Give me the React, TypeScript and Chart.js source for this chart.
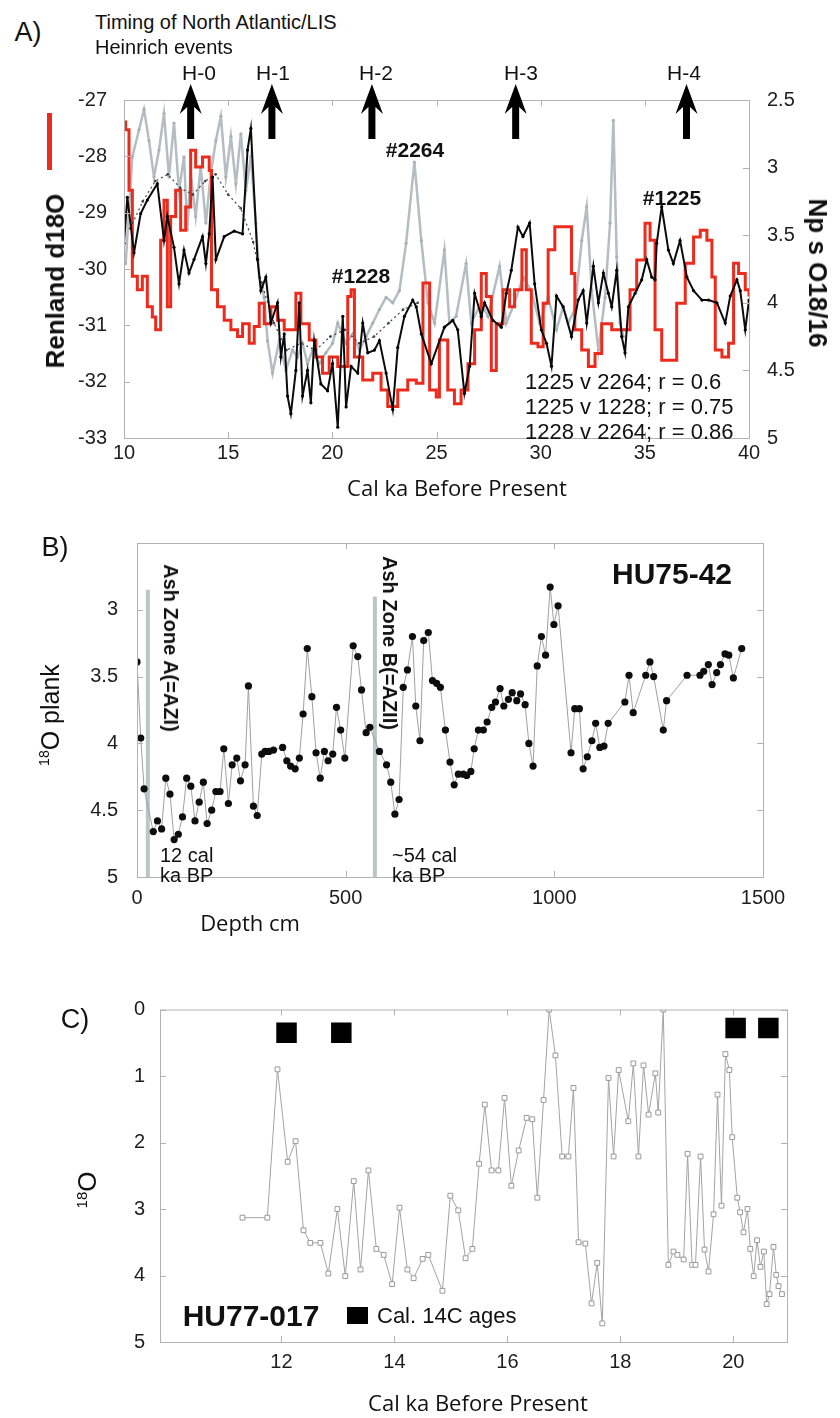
import React, { useEffect, useRef } from "react";
import { Chart, registerables } from "chart.js";

Chart.register(...registerables);

const FONT = "'Liberation Sans', Arial, Helvetica, sans-serif";
const TITLE_FONT = "'Open Sans', 'Liberation Sans', sans-serif";

// ---------------- Panel A data ----------------
const renlandAge = [10.0, 10.08, 10.24, 10.4, 10.64, 10.88, 11.12, 11.36, 11.52, 11.76, 11.92, 12.08, 12.24, 12.48, 12.72, 12.96, 13.2, 13.44, 13.77, 14.09, 14.2, 14.49, 14.81, 15.13, 15.45, 15.69, 16.01, 16.25, 16.49, 16.73, 17.05, 17.37, 17.69, 18.25, 18.49, 18.89, 19.21, 19.53, 19.85, 20.26, 20.74, 20.9, 21.06, 21.46, 21.94, 22.34, 22.66, 23.14, 23.62, 24.03, 24.35, 24.67, 24.99, 25.14, 25.54, 25.86, 26.18, 26.51, 26.83, 27.15, 27.39, 27.63, 27.87, 28.19, 28.51, 28.75, 29.1, 29.31, 29.55, 29.87, 30.12, 30.36, 30.68, 31.08, 31.32, 31.48, 31.64, 31.97, 32.29, 32.61, 32.93, 33.41, 33.89, 34.29, 34.61, 35.01, 35.25, 35.49, 35.81, 36.21, 36.53, 36.94, 37.34, 37.66, 37.98, 38.22, 38.38, 38.7, 39.02, 39.26, 39.5, 39.82, 40.0];
const renlandD18O = [-27.39, -27.53, -28.6, -30.13, -30.37, -30.13, -30.67, -30.85, -31.08, -29.49, -28.78, -30.67, -29.07, -28.6, -29.31, -28.9, -27.89, -28.19, -28.01, -28.25, -30.37, -30.67, -30.91, -31.08, -31.2, -30.97, -31.32, -31.02, -30.61, -30.97, -30.67, -30.91, -31.08, -30.43, -30.97, -31.26, -31.56, -31.85, -31.56, -31.73, -30.49, -30.37, -31.56, -31.97, -31.85, -32.15, -32.44, -32.15, -31.97, -32.03, -30.25, -32.15, -32.27, -31.26, -32.15, -32.39, -32.15, -31.68, -31.08, -30.08, -30.49, -31.8, -30.97, -30.37, -30.67, -30.37, -29.66, -30.37, -31.32, -31.38, -30.61, -29.66, -29.25, -29.25, -29.25, -30.08, -31.08, -31.44, -31.73, -31.5, -30.97, -31.08, -31.08, -30.37, -29.84, -29.19, -29.49, -31.08, -31.62, -31.62, -30.61, -29.9, -29.43, -29.31, -29.49, -30.14, -31.44, -31.56, -31.32, -29.9, -30.08, -30.37, -30.49];

const core1225Age = [10.0, 10.16, 10.48, 10.8, 11.12, 11.6, 11.92, 12.08, 12.4, 12.64, 12.88, 13.12, 13.36, 13.77, 13.93, 14.09, 14.25, 14.41, 14.81, 15.29, 15.69, 15.93, 16.09, 16.41, 16.57, 16.81, 17.05, 17.37, 17.53, 17.69, 17.85, 18.01, 18.25, 18.41, 18.57, 18.81, 18.97, 19.13, 19.45, 19.77, 20.01, 20.26, 20.5, 20.66, 20.9, 21.22, 21.46, 21.7, 22.02, 22.26, 22.58, 22.9, 23.14, 23.46, 23.86, 24.03, 24.27, 24.75, 25.38, 25.78, 26.02, 26.34, 26.59, 26.83, 27.15, 27.31, 27.71, 28.11, 28.35, 28.59, 28.91, 29.15, 29.47, 29.71, 30.03, 30.28, 30.52, 30.76, 31.08, 31.48, 31.8, 32.04, 32.21, 32.53, 32.77, 33.01, 33.25, 33.41, 33.65, 33.89, 34.05, 34.21, 34.53, 34.85, 35.09, 35.33, 35.49, 35.57, 35.81, 36.13, 36.37, 36.69, 37.02, 37.34, 37.74, 38.06, 38.46, 38.86, 39.1, 39.42, 39.58, 39.82, 40.0];
const core1225O18 = [3.56, 3.22, 3.63, 3.34, 3.24, 3.12, 3.54, 3.36, 3.59, 3.86, 3.61, 3.78, 3.68, 3.51, 3.71, 3.49, 3.07, 3.68, 3.51, 3.47, 3.49, 2.87, 2.71, 3.68, 3.91, 3.81, 4.15, 4.0, 4.4, 4.23, 4.69, 4.82, 4.5, 4.0, 4.69, 4.5, 4.74, 4.28, 4.6, 4.65, 4.45, 4.92, 4.1, 4.77, 4.47, 4.52, 4.15, 4.37, 4.35, 4.28, 4.52, 4.79, 4.33, 4.1, 3.98, 4.03, 4.23, 4.45, 4.18, 4.13, 4.2, 4.67, 4.47, 3.93, 4.1, 4.0, 4.13, 4.18, 3.93, 3.76, 3.44, 3.51, 3.41, 3.86, 4.2, 4.3, 4.47, 3.95, 4.03, 4.25, 3.98, 3.91, 4.15, 3.73, 4.0, 3.78, 3.93, 4.03, 3.76, 4.25, 4.37, 4.03, 3.93, 3.83, 3.68, 3.81, 3.83, 3.56, 3.29, 3.61, 3.71, 3.54, 3.81, 3.91, 3.98, 3.98, 4.0, 4.15, 3.95, 3.83, 3.91, 4.2, 3.98];

const core2264Age = [10.08, 10.4, 10.72, 10.96, 11.2, 11.44, 11.68, 11.92, 12.16, 12.4, 12.64, 12.88, 13.04, 13.2, 13.44, 13.68, 13.93, 14.17, 14.41, 14.65, 14.89, 15.13, 15.37, 15.61, 15.85, 16.09, 16.33, 16.49, 16.73, 16.89, 17.13, 17.45, 17.77, 18.09, 18.33, 18.57, 18.81, 19.05, 19.37, 19.69, 20.01, 20.26, 20.66, 20.98, 21.3, 21.62, 21.94, 22.26, 22.58, 22.9, 23.22, 23.54, 23.94, 24.27, 24.59, 24.91, 25.38, 25.62, 25.94, 26.42, 26.67, 27.15, 27.47, 28.03, 28.35, 28.75, 29.15, 29.55, 29.95, 30.36, 30.76, 31.08, 31.32, 31.64, 31.97, 32.21, 32.45, 32.77, 33.09, 33.33, 33.49, 33.65, 33.81, 33.97];
const core2264O18 = [3.71, 2.92, 2.72, 2.57, 2.8, 3.07, 2.87, 2.6, 3.07, 2.67, 3.17, 2.92, 3.46, 3.04, 3.36, 2.99, 3.41, 3.04, 2.8, 2.62, 3.07, 2.77, 3.12, 2.75, 3.17, 2.92, 3.41, 3.81, 3.96, 4.28, 4.52, 4.28, 4.5, 4.35, 4.4, 4.3, 4.45, 4.35, 4.45, 4.37, 4.3, 4.15, 4.3, 4.23, 4.35, 4.25, 4.15, 4.05, 3.96, 4.0, 3.91, 3.56, 2.96, 3.54, 4.0, 4.15, 3.61, 4.15, 4.1, 3.71, 4.15, 4.0, 4.1, 3.73, 4.15, 4.0, 3.81, 3.91, 4.15, 3.96, 4.2, 4.03, 4.15, 4.05, 3.54, 3.29, 3.91, 4.35, 3.96, 3.41, 2.65, 3.66, 4.15, 4.25];

const core1228Age = [10.3, 10.9, 11.5, 12.1, 12.7, 13.3, 13.9, 14.4, 15.0, 15.6, 16.2, 16.6, 17.2, 17.8, 18.5, 19.2, 19.9, 20.6, 21.3, 22.0, 22.7, 23.4, 24.1];
const core1228O18 = [3.45, 3.25, 3.1, 3.05, 3.15, 3.2, 3.1, 3.05, 3.2, 3.3, 3.55, 3.85, 4.15, 4.35, 4.3, 4.35, 4.25, 4.2, 4.3, 4.25, 4.15, 4.05, 4.0];

const heinrichAges = [13.2, 17.1, 21.9, 28.8, 37.0];
const heinrichLabels = ["H-0", "H-1", "H-2", "H-3", "H-4"];
const ageTicksA = [10, 15, 20, 25, 30, 35, 40];
const renlandTicks = [-33, -32, -31, -30, -29, -28, -27];
const npsTicks = [2.5, 3, 3.5, 4, 4.5, 5];
const correlationLines = ["1225 v 2264; r = 0.6", "1225 v 1228; r = 0.75", "1228 v 2264; r = 0.86"];

// ---------------- Panel B data ----------------
const depthCm = [0, 9, 17, 39, 49, 59, 69, 79, 89, 99, 109, 119, 129, 139, 149, 159, 168, 179, 189, 199, 208, 219, 228, 239, 248, 259, 267, 279, 288, 299, 307, 316, 327, 349, 359, 368, 379, 389, 398, 408, 419, 429, 439, 449, 458, 469, 478, 488, 498, 518, 529, 538, 549, 558, 581, 598, 608, 618, 628, 638, 648, 660, 668, 678, 687, 698, 708, 718, 727, 739, 750, 760, 770, 782, 790, 800, 808, 818, 830, 839, 850, 859, 870, 879, 890, 899, 910, 919, 930, 939, 949, 959, 969, 979, 990, 999, 1009, 1040, 1049, 1060, 1069, 1079, 1090, 1099, 1109, 1119, 1129, 1169, 1179, 1189, 1219, 1229, 1238, 1261, 1269, 1318, 1349, 1358, 1369, 1378, 1389, 1398, 1409, 1418, 1429, 1449];
const plankO18 = [3.39, 3.96, 4.34, 4.66, 4.58, 4.64, 4.26, 4.38, 4.72, 4.68, 4.55, 4.26, 4.32, 4.58, 4.44, 4.29, 4.6, 4.5, 4.36, 4.36, 4.04, 4.45, 4.16, 4.11, 4.28, 4.16, 3.57, 4.47, 4.54, 4.08, 4.06, 4.06, 4.05, 4.03, 4.13, 4.17, 4.19, 4.11, 3.78, 3.29, 3.65, 4.07, 4.26, 4.06, 4.13, 4.08, 3.73, 3.9, 4.11, 3.27, 3.35, 3.6, 3.92, 3.88, 4.06, 4.16, 4.29, 4.53, 4.42, 3.58, 3.45, 3.2, 3.72, 3.98, 3.23, 3.17, 3.53, 3.55, 3.58, 3.9, 4.14, 4.31, 4.23, 4.23, 4.24, 4.21, 4.04, 3.9, 3.9, 3.84, 3.73, 3.69, 3.59, 3.72, 3.67, 3.62, 3.68, 3.63, 3.71, 4.0, 4.17, 3.42, 3.2, 3.34, 2.83, 3.11, 2.97, 4.07, 3.74, 3.74, 4.19, 4.1, 3.98, 3.85, 4.03, 4.02, 3.85, 3.69, 3.49, 3.77, 3.49, 3.39, 3.5, 3.9, 3.68, 3.49, 3.49, 3.46, 3.41, 3.56, 3.47, 3.41, 3.33, 3.34, 3.51, 3.29];
const ashDepths = [26, 570];
const ashTops = [2.85, 2.9];
const depthTicks = [0, 500, 1000, 1500];
const plankTicks = [3, 3.5, 4, 4.5, 5];

// ---------------- Panel C data ----------------
const hu77Age = [11.31, 11.75, 11.93, 12.11, 12.25, 12.39, 12.51, 12.69, 12.83, 12.99, 13.13, 13.28, 13.4, 13.54, 13.68, 13.81, 13.96, 14.09, 14.23, 14.34, 14.5, 14.6, 14.85, 14.99, 15.13, 15.26, 15.38, 15.5, 15.6, 15.72, 15.84, 15.95, 16.07, 16.2, 16.34, 16.44, 16.53, 16.64, 16.74, 16.85, 16.97, 17.08, 17.17, 17.26, 17.38, 17.49, 17.59, 17.68, 17.79, 17.88, 17.97, 18.14, 18.23, 18.32, 18.41, 18.5, 18.62, 18.67, 18.76, 18.85, 18.94, 19.01, 19.12, 19.19, 19.27, 19.33, 19.42, 19.49, 19.56, 19.65, 19.72, 19.79, 19.86, 19.93, 19.98, 20.07, 20.12, 20.18, 20.25, 20.3, 20.36, 20.42, 20.48, 20.54, 20.59, 20.64, 20.71, 20.76, 20.8, 20.86];
const hu77O18 = [3.13, 3.13, 0.9, 2.29, 1.98, 3.32, 3.51, 3.51, 3.97, 3.0, 4.01, 2.58, 3.91, 2.42, 3.6, 3.69, 4.13, 2.98, 3.91, 4.04, 3.75, 3.69, 4.23, 2.8, 3.02, 3.74, 3.6, 2.32, 1.43, 2.42, 2.42, 1.33, 2.65, 2.12, 1.63, 1.65, 2.83, 1.36, 0.0, 0.69, 2.21, 2.21, 1.18, 3.5, 3.52, 4.42, 3.81, 4.72, 1.03, 2.21, 0.91, 1.68, 0.81, 2.21, 0.84, 1.58, 0.96, 1.55, 0.0, 3.84, 3.64, 3.69, 3.76, 2.17, 3.84, 3.84, 2.21, 3.61, 3.94, 3.08, 1.28, 2.95, 0.67, 0.91, 1.92, 2.83, 3.05, 3.35, 3.0, 3.6, 4.01, 3.47, 3.87, 3.64, 4.43, 4.28, 3.57, 3.99, 4.16, 4.28];
const c14Ages = [12.09, 13.06, 20.04, 20.62];
const c14Level = [0.35, 0.35, 0.28, 0.28];
const ageTicksC = [12, 14, 16, 18, 20];
const o18TicksC = [0, 1, 2, 3, 4, 5];

// ---------------- helpers ----------------
const zip = (xs: number[], ys: number[]) => xs.map((x, i) => ({ x, y: ys[i] }));

const fixTicks = (values: number[]) => (scale: any) => {
  scale.ticks = values.map((v) => ({ value: v }));
};

const fixSize = (dim: "width" | "height", size: number) => (s: any) => {
  s[dim] = size;
  s.paddingTop = 0;
  s.paddingBottom = 0;
  s.paddingLeft = 0;
  s.paddingRight = 0;
};

const tickFont = { family: FONT, size: 20 };

const axis = (extra: any) => ({
  type: "linear",
  grid: { display: false, drawTicks: false },
  border: { display: false },
  ...extra,
  ticks: {
    font: tickFont,
    color: "#1e1e1e",
    autoSkip: false,
    maxRotation: 0,
    callback: (v: any) => String(v),
    ...(extra.ticks || {}),
  },
});

const framePlugin = {
  id: "frame",
  afterDraw(chart: any) {
    const { ctx, chartArea: a, scales } = chart;
    ctx.save();
    ctx.strokeStyle = "#b2b2b2";
    ctx.lineWidth = 1;
    ctx.strokeRect(a.left + 0.5, a.top + 0.5, a.right - a.left, a.bottom - a.top);
    const L = 6;
    ctx.beginPath();
    scales.x.ticks.forEach((t: any) => {
      const px = Math.round(scales.x.getPixelForValue(t.value)) + 0.5;
      ctx.moveTo(px, a.bottom);
      ctx.lineTo(px, a.bottom - L);
      ctx.moveTo(px, a.top);
      ctx.lineTo(px, a.top + L);
    });
    scales.y.ticks.forEach((t: any) => {
      const py = Math.round(scales.y.getPixelForValue(t.value)) + 0.5;
      ctx.moveTo(a.left, py);
      ctx.lineTo(a.left + L, py);
      if (!scales.y1) {
        ctx.moveTo(a.right, py);
        ctx.lineTo(a.right - L, py);
      }
    });
    if (scales.y1) {
      scales.y1.ticks.forEach((t: any) => {
        const py = Math.round(scales.y1.getPixelForValue(t.value)) + 0.5;
        ctx.moveTo(a.right, py);
        ctx.lineTo(a.right - L, py);
      });
    }
    ctx.stroke();
    ctx.restore();
  },
};

const arrowsPlugin = {
  id: "heinrichArrows",
  afterDraw(chart: any) {
    const { ctx, chartArea: a, scales } = chart;
    ctx.save();
    ctx.fillStyle = "#000";
    heinrichAges.forEach((age) => {
      const x = scales.x.getPixelForValue(age);
      const tip = a.top - 16;
      const base = a.top + 39;
      ctx.beginPath();
      ctx.moveTo(x, tip);
      ctx.lineTo(x + 11, tip + 30);
      ctx.lineTo(x + 3.5, tip + 23);
      ctx.lineTo(x + 3.5, base);
      ctx.lineTo(x - 3.5, base);
      ctx.lineTo(x - 3.5, tip + 23);
      ctx.lineTo(x - 11, tip + 30);
      ctx.closePath();
      ctx.fill();
    });
    ctx.restore();
  },
};

const ashPlugin = {
  id: "ashZones",
  beforeDatasetsDraw(chart: any) {
    const { ctx, chartArea: a, scales } = chart;
    ctx.save();
    ctx.strokeStyle = "#b8c6c5";
    ctx.lineWidth = 4;
    ashDepths.forEach((d, i) => {
      const x = scales.x.getPixelForValue(d);
      ctx.beginPath();
      ctx.moveTo(x, scales.y.getPixelForValue(ashTops[i]));
      ctx.lineTo(x, a.bottom);
      ctx.stroke();
    });
    ctx.restore();
  },
};

const basePlugins = { legend: { display: false }, tooltip: { enabled: false } };

function configA(): any {
  return {
    type: "line",
    data: {
      datasets: [
        {
          data: zip(core1225Age, core1225O18),
          yAxisID: "y1",
          borderColor: "#0b0b0b",
          borderWidth: 2,
          pointRadius: 1.6,
          pointBackgroundColor: "#000",
          pointBorderWidth: 0,
          order: 0,
        },
        {
          data: zip(core1228Age, core1228O18),
          yAxisID: "y1",
          borderColor: "#3d434a",
          borderWidth: 1.2,
          borderDash: [2, 3],
          pointRadius: 1.3,
          pointBackgroundColor: "#3d434a",
          pointBorderWidth: 0,
          order: 1,
        },
        {
          data: zip(renlandAge, renlandD18O),
          yAxisID: "y",
          borderColor: "#ec2b1c",
          borderWidth: 3,
          stepped: true,
          pointRadius: 0,
          order: 2,
        },
        {
          data: zip(core2264Age, core2264O18),
          yAxisID: "y1",
          borderColor: "#b3bdc2",
          borderWidth: 2.5,
          pointRadius: 1.6,
          pointBackgroundColor: "#a7b1b6",
          pointBorderWidth: 0,
          order: 3,
        },
      ],
    },
    options: {
      animation: false,
      responsive: false,
      devicePixelRatio: 1,
      events: [],
      layout: { padding: { top: 45, left: 0, right: 0, bottom: 0 } },
      plugins: basePlugins,
      scales: {
        x: axis({
          position: "bottom",
          min: 10,
          max: 40,
          afterBuildTicks: fixTicks(ageTicksA),
          afterFit: fixSize("height", 37),
          ticks: { padding: 3 },
        }),
        y: axis({
          position: "left",
          min: -33,
          max: -27,
          afterBuildTicks: fixTicks(renlandTicks),
          afterFit: fixSize("width", 64),
          ticks: { padding: 17 },
        }),
        y1: axis({
          position: "right",
          min: 2.5,
          max: 5,
          reverse: true,
          afterBuildTicks: fixTicks(npsTicks),
          afterFit: fixSize("width", 71),
          ticks: { padding: 18 },
        }),
      },
    },
    plugins: [framePlugin, arrowsPlugin],
  };
}

function configB(): any {
  return {
    type: "line",
    data: {
      datasets: [
        {
          data: zip(depthCm, plankO18),
          borderColor: "#a0a0a0",
          borderWidth: 1,
          pointRadius: 3.6,
          pointBackgroundColor: "#0d0d0d",
          pointBorderColor: "#0d0d0d",
          pointBorderWidth: 0,
        },
      ],
    },
    options: {
      animation: false,
      responsive: false,
      devicePixelRatio: 1,
      events: [],
      layout: { padding: { top: 5, left: 0, right: 27, bottom: 0 } },
      plugins: basePlugins,
      scales: {
        x: axis({
          position: "bottom",
          min: 0,
          max: 1500,
          afterBuildTicks: fixTicks(depthTicks),
          afterFit: fixSize("height", 61),
          ticks: { padding: 9 },
        }),
        y: axis({
          position: "left",
          min: 2.5,
          max: 5,
          reverse: true,
          afterBuildTicks: fixTicks(plankTicks),
          afterFit: fixSize("width", 107),
          ticks: { padding: 19 },
        }),
      },
    },
    plugins: [framePlugin, ashPlugin],
  };
}

function configC(): any {
  return {
    type: "line",
    data: {
      datasets: [
        {
          data: zip(c14Ages, c14Level),
          showLine: false,
          pointStyle: "rect",
          pointRadius: 14.5,
          pointBackgroundColor: "#000",
          pointBorderWidth: 0,
          order: 0,
        },
        {
          data: zip(hu77Age, hu77O18),
          borderColor: "#a3a3a3",
          borderWidth: 1,
          pointStyle: "rect",
          pointRadius: 3.4,
          pointBackgroundColor: "#ffffff",
          pointBorderColor: "#9a9a9a",
          pointBorderWidth: 1,
          order: 1,
        },
      ],
    },
    options: {
      animation: false,
      responsive: false,
      devicePixelRatio: 1,
      events: [],
      layout: { padding: { top: 8, left: 0, right: 23, bottom: 0 } },
      plugins: basePlugins,
      scales: {
        x: axis({
          position: "bottom",
          min: 9.85,
          max: 20.95,
          afterBuildTicks: fixTicks(ageTicksC),
          afterFit: fixSize("height", 73),
          ticks: { padding: 8 },
        }),
        y: axis({
          position: "left",
          min: 0,
          max: 5,
          reverse: true,
          afterBuildTicks: fixTicks(o18TicksC),
          afterFit: fixSize("width", 130),
          ticks: { padding: 15 },
        }),
      },
    },
    plugins: [framePlugin],
  };
}

function ChartBox(props: { left: number; top: number; width: number; height: number; make: () => any }) {
  const { left, top, width, height, make } = props;
  const ref = useRef<HTMLCanvasElement>(null);
  useEffect(() => {
    const chart = new Chart(ref.current as HTMLCanvasElement, make());
    return () => chart.destroy();
  }, []);
  return (
    <div style={{ position: "absolute", left, top, width, height }}>
      <canvas ref={ref} width={width} height={height} style={{ width, height, display: "block" }} />
    </div>
  );
}

function T(props: {
  x: number;
  y: number;
  size?: number;
  bold?: boolean;
  family?: string;
  rotate?: number;
  anchor?: "center" | "left";
  children: any;
}) {
  const { x, y, size = 20, bold = false, family = FONT, rotate = 0, anchor = "center", children } = props;
  const tx = anchor === "center" ? "-50%" : "0";
  return (
    <div
      style={{
        position: "absolute",
        left: x,
        top: y,
        fontFamily: family,
        fontSize: size,
        fontWeight: bold ? 700 : 400,
        lineHeight: 1,
        whiteSpace: "nowrap",
        color: "#111",
        transform: `translate(${tx}, -50%) rotate(${rotate}deg)`,
      }}
    >
      {children}
    </div>
  );
}

const hPos = [199, 273, 376, 521, 684];

export default function App() {
  return (
    <div style={{ position: "absolute", left: 0, top: 0, width: 840, height: 1418, background: "#fff", overflow: "hidden" }}>
      {/* Panel A */}
      <ChartBox left={60} top={55} width={760} height={420} make={configA} />
      <T x={28} y={32} size={27}>A)</T>
      <T x={95} y={22} size={20} anchor="left">Timing of North Atlantic/LIS</T>
      <T x={95} y={47} size={20} anchor="left">Heinrich events</T>
      {heinrichLabels.map((h, i) => (
        <T key={h} x={hPos[i]} y={72} size={21}>{h}</T>
      ))}
      <div style={{ position: "absolute", left: 47, top: 113, width: 5, height: 57, background: "#ec2b1c" }} />
      <T x={55} y={281} size={26} bold rotate={-90}>Renland d18O</T>
      <T x={818} y={273} size={26} bold rotate={90}>Np s O18/16</T>
      <T x={415} y={149} size={21} bold>#2264</T>
      <T x={361} y={275} size={21} bold>#1228</T>
      <T x={672} y={197} size={21} bold>#1225</T>
      {correlationLines.map((c, i) => (
        <T key={c} x={525} y={382 + i * 25} size={22} anchor="left">{c}</T>
      ))}
      <T x={457} y={487} size={22} family={TITLE_FONT}>Cal ka Before Present</T>

      {/* Panel B */}
      <ChartBox left={30} top={538} width={760} height={400} make={configB} />
      <T x={55} y={547} size={27}>B)</T>
      <T x={50} y={715} size={25} rotate={-90}>
        <span style={{ fontSize: 14, verticalAlign: "super" }}>18</span>O plank
      </T>
      <T x={672} y={574} size={30} bold>HU75-42</T>
      <T x={171} y={648} size={20} bold rotate={90}>Ash Zone A(=AZI)</T>
      <T x={390} y={643} size={20} bold rotate={90}>Ash Zone B(=AZII)</T>
      <T x={160} y={855} size={20} anchor="left">12 cal</T>
      <T x={160} y={875} size={20} anchor="left">ka BP</T>
      <T x={392} y={855} size={20} anchor="left">~54 cal</T>
      <T x={392} y={875} size={20} anchor="left">ka BP</T>
      <T x={250} y={922} size={22} family={TITLE_FONT}>Depth cm</T>

      {/* Panel C */}
      <ChartBox left={30} top={995} width={780} height={420} make={configC} />
      <T x={75} y={1019} size={27}>C)</T>
      <T x={87} y={1190} size={26} rotate={-90}>
        <span style={{ fontSize: 15, verticalAlign: "super" }}>18</span>O
      </T>
      <T x={251} y={1316} size={30} bold>HU77-017</T>
      <div style={{ position: "absolute", left: 347, top: 1307, width: 21, height: 17, background: "#000" }} />
      <T x={377} y={1316} size={22} anchor="left">Cal. 14C ages</T>
      <T x={478} y={1402} size={22} family={TITLE_FONT}>Cal ka Before Present</T>
    </div>
  );
}
